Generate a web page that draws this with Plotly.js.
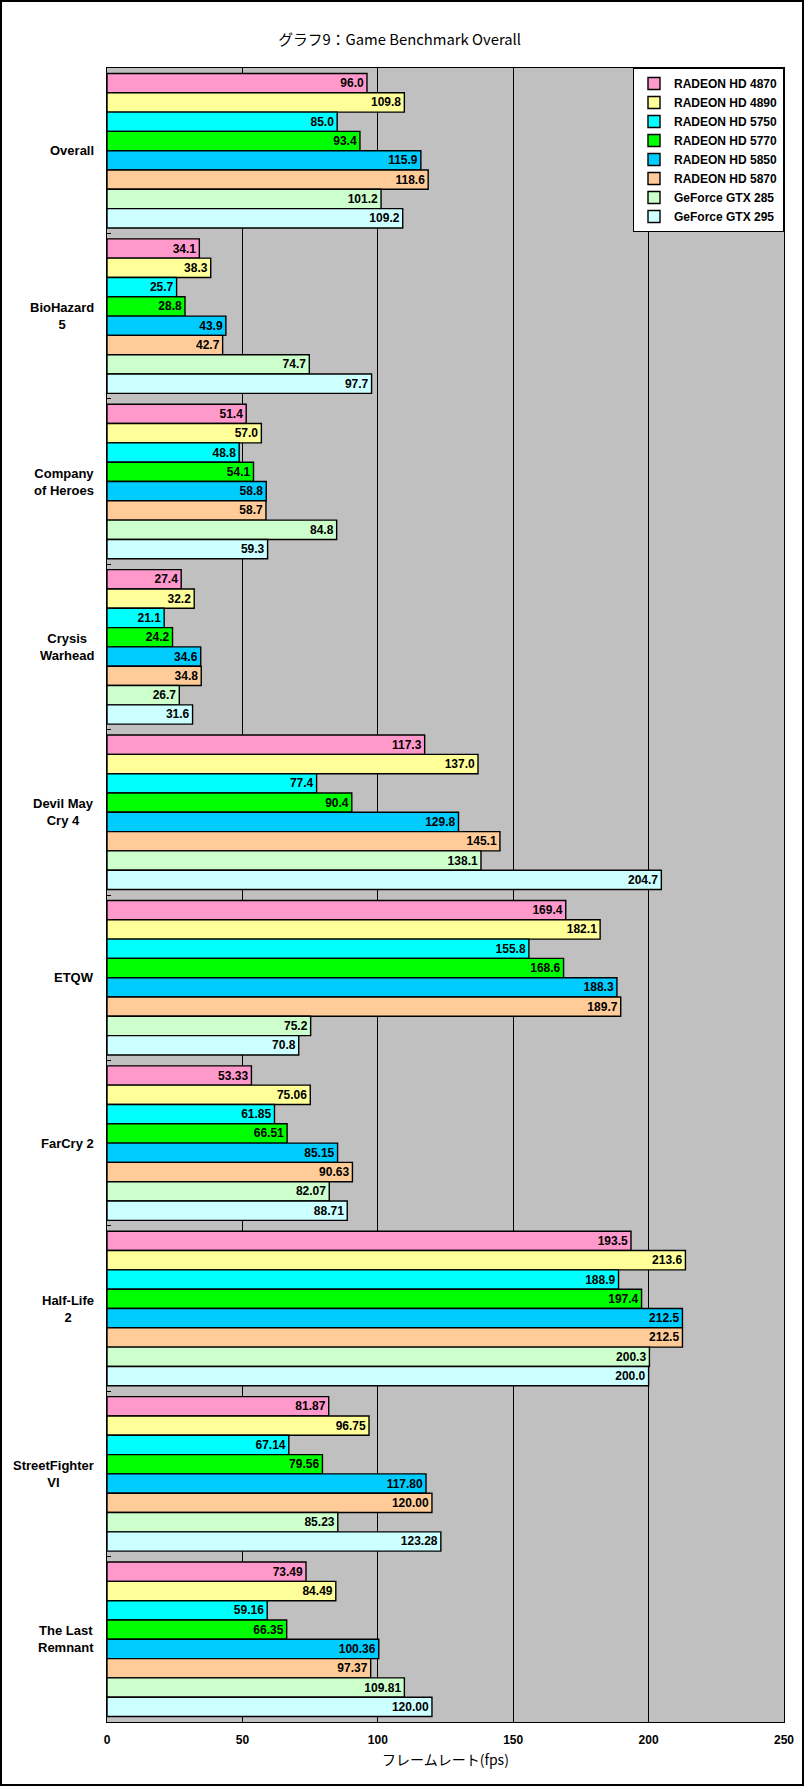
<!DOCTYPE html>
<html><head><meta charset="utf-8">
<script src="https://cdn.plot.ly/plotly-3.0.1.min.js"></script>
<style>html,body{margin:0;padding:0;background:#fff;}</style>
</head><body>
<div id="chart" style="width:804px;height:1786px;"></div>
<script>
const categories = ['Overall','BioHazard 5','Company of Heroes','Crysis Warhead','Devil May Cry 4','ETQW','FarCry 2','Half-Life 2','StreetFighter VI','The Last Remnant'];
const categoryLabels = ['Overall','BioHazard<br>5','Company<br>of Heroes','Crysis<br>Warhead','Devil May<br>Cry 4','ETQW','FarCry 2','Half-Life<br>2','StreetFighter<br>VI','The Last<br>Remnant'];
const decimals = [1,1,1,1,1,1,2,1,2,2];

const seriesNames = ['RADEON HD 4870','RADEON HD 4890','RADEON HD 5750','RADEON HD 5770','RADEON HD 5850','RADEON HD 5870','GeForce GTX 285','GeForce GTX 295'];
const hd4870 = [96.0, 34.1, 51.4, 27.4, 117.3, 169.4, 53.33, 193.5, 81.87, 73.49];
const hd4890 = [109.8, 38.3, 57.0, 32.2, 137.0, 182.1, 75.06, 213.6, 96.75, 84.49];
const hd5750 = [85.0, 25.7, 48.8, 21.1, 77.4, 155.8, 61.85, 188.9, 67.14, 59.16];
const hd5770 = [93.4, 28.8, 54.1, 24.2, 90.4, 168.6, 66.51, 197.4, 79.56, 66.35];
const hd5850 = [115.9, 43.9, 58.8, 34.6, 129.8, 188.3, 85.15, 212.5, 117.80, 100.36];
const hd5870 = [118.6, 42.7, 58.7, 34.8, 145.1, 189.7, 90.63, 212.5, 120.00, 97.37];
const gtx285 = [101.2, 74.7, 84.8, 26.7, 138.1, 75.2, 82.07, 200.3, 85.23, 109.81];
const gtx295 = [109.2, 97.7, 59.3, 31.6, 204.7, 70.8, 88.71, 200.0, 123.28, 120.00];
const seriesColors = ['#FF99CC','#FFFF99','#00FFFF','#00FF00','#00CCFF','#FFCC99','#CCFFCC','#CCFFFF'];

const xTicks = [0,50,100,150,200,250];

const allSeries = [hd4870, hd4890, hd5750, hd5770, hd5850, hd5870, gtx285, gtx295];

const W = 804, H = 1786;
const M = {l:107, r:20, t:68, b:64};
const pw = W - M.l - M.r, ph = H - M.t - M.b;

const traces = allSeries.map((vals, i) => ({
  type: 'bar',
  orientation: 'h',
  name: seriesNames[i],
  y: categories,
  x: vals,
  text: vals.map((v, j) => v.toFixed(decimals[j])),
  textposition: 'inside',
  insidetextanchor: 'end',
  constraintext: 'none',
  textfont: {family: 'Liberation Sans, Arial, sans-serif', size: 12, color: '#000', weight: 'bold'},
  marker: {color: seriesColors[i], line: {color: '#000', width: 1.4}},
  hoverinfo: 'x+name'
}));

const annotations = categories.map((c, i) => ({
  xref: 'paper', yref: 'y', x: 0, y: c, xshift: -11,
  xanchor: 'right', yanchor: 'middle', align: 'center',
  text: categoryLabels[i], showarrow: false,
  font: {family: 'Liberation Sans, Arial, sans-serif', size: 13, color: '#000', weight: 'bold'}
}));

const layout = {
  width: W, height: H,
  margin: M,
  paper_bgcolor: '#FFFFFF',
  plot_bgcolor: '#C0C0C0',
  barmode: 'group',
  bargap: 0.066,
  bargroupgap: 0,
  showlegend: true,
  title: {
    text: 'グラフ9：Game Benchmark Overall',
    x: 0.497, xref: 'container', xanchor: 'center',
    y: 1 - 40/H, yref: 'container', yanchor: 'middle',
    font: {family: 'Noto Sans CJK JP, sans-serif', size: 14.8, color: '#000'}
  },
  xaxis: {
    range: [0, 250],
    tickvals: xTicks,
    ticktext: xTicks.map(String),
    showgrid: true, gridcolor: '#000', gridwidth: 1,
    zeroline: false,
    showline: true, linecolor: '#000', linewidth: 1, mirror: true,
    ticks: '',
    ticklabelstandoff: 7,
    tickfont: {family: 'Liberation Sans, Arial, sans-serif', size: 12, color: '#000', weight: 'bold'},
    title: {text: 'フレームレート(fps)', standoff: 8,
            font: {family: 'Noto Sans CJK JP, sans-serif', size: 14, color: '#000'}},
    fixedrange: true
  },
  yaxis: {
    type: 'category',
    autorange: 'reversed',
    showticklabels: false,
    ticks: 'inside', tickson: 'boundaries', ticklen: 4, tickcolor: '#000', tickwidth: 1,
    showgrid: false, zeroline: false,
    showline: true, linecolor: '#000', linewidth: 1, mirror: true,
    fixedrange: true
  },
  legend: {
    x: 1, y: 1, xanchor: 'right', yanchor: 'top',
    bgcolor: '#FFFFFF', bordercolor: '#000', borderwidth: 1,
    traceorder: 'normal',
    itemwidth: 30,
    tracegroupgap: 0,
    font: {family: 'Liberation Sans, Arial, sans-serif', size: 12, color: '#000', weight: 'bold'}
  },
  annotations: annotations,
  shapes: [{
    type: 'rect', xref: 'paper', yref: 'paper',
    x0: -(M.l - 1)/pw, x1: 1 + (M.r - 1)/pw,
    y0: -(M.b - 1)/ph, y1: 1 + (M.t - 1)/ph,
    line: {color: '#000', width: 2}, fillcolor: 'rgba(0,0,0,0)', layer: 'above'
  }]
};

Plotly.newPlot('chart', traces, layout, {displayModeBar: false, staticPlot: true});
</script>
</body></html>
